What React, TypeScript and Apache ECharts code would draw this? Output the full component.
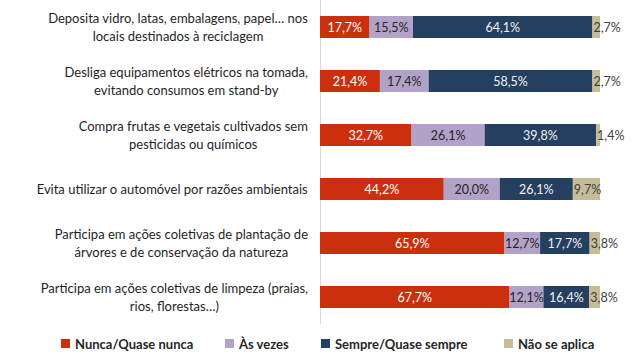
import React, { useEffect, useRef } from "react";
import * as echarts from "echarts";

const categories = [
  "Deposita vidro, latas, embalagens, papel… nos\nlocais destinados à reciclagem",
  "Desliga equipamentos elétricos na tomada,\nevitando consumos em stand-by",
  "Compra frutas e vegetais cultivados sem\npesticidas ou químicos",
  "Evita utilizar o automóvel por razões ambientais",
  "Participa em ações coletivas de plantação de\nárvores e de conservação da natureza",
  "Participa em ações coletivas de limpeza (praias,\nrios, florestas…)",
];
const seriesNames = ["Nunca/Quase nunca", "Às vezes", "Sempre/Quase sempre", "Não se aplica"];
const nunca = [17.7, 21.4, 32.7, 44.2, 65.9, 67.7];
const asVezes = [15.5, 17.4, 26.1, 20.0, 12.7, 12.1];
const sempre = [64.1, 58.5, 39.8, 26.1, 17.7, 16.4];
const naoAplica = [2.7, 2.7, 1.4, 9.7, 3.8, 3.8];

const colors = ["#CB2F0E", "#B3A2C7", "#243F60", "#C4BD97"];
const labelColors = ["#FFFFFF", "#262626", "#F2F2F2", "#404040"];
const FONT = "Lato, 'Open Sans', sans-serif";

export default function App() {
  const ref = useRef<HTMLDivElement>(null);
  useEffect(() => {
    if (!ref.current) return;
    const chart = echarts.init(ref.current, undefined, { renderer: "svg" });
    const data = [nunca, asVezes, sempre, naoAplica];
    const fmt = (p: any) => (p.value as number).toFixed(1).replace(".", ",") + "%";
    const legendLefts = [56, 220, 316, 499];
    chart.setOption({
      animation: false,
      textStyle: { fontFamily: FONT },
      grid: { left: 320, right: 36, top: -1, height: 325, containLabel: false },
      xAxis: {
        type: "value",
        min: 0,
        max: 100,
        show: false,
      },
      yAxis: {
        type: "category",
        inverse: true,
        data: categories,
        axisLine: { show: true, lineStyle: { color: "#D9D9D9", width: 1 } },
        axisTick: { show: false },
        axisLabel: {
          margin: 12,
          formatter: (v: string) =>
            v
              .split("\n")
              .map((l) => `{c|${l}}`)
              .join("\n"),
          rich: {
            c: {
              align: "center",
              fontSize: 13,
              lineHeight: 18,
              color: "#1F1F1F",
              fontFamily: FONT,
            },
          },
        },
      },
      legend: seriesNames.map((n, i) => ({
        data: [n],
        left: legendLefts[i],
        top: 332,
        itemWidth: 9,
        itemHeight: 9,
        itemGap: 4,
        icon: "rect",
        textStyle: { fontSize: 13, fontWeight: "bold", color: "#262626", fontFamily: FONT },
      })),
      series: seriesNames.map((n, i) => ({
        name: n,
        type: "bar",
        stack: "total",
        barWidth: 22,
        data: data[i],
        itemStyle: { color: colors[i] },
        label: {
          show: true,
          position: i === 3 ? "insideLeft" : "inside",
          distance: i === 3 ? 1 : 5,
          formatter: fmt,
          color: labelColors[i],
          fontSize: 12.5,
          fontFamily: FONT,
        },
      })),
    });
    return () => chart.dispose();
  }, []);
  return (
    <div
      ref={ref}
      style={{ position: "absolute", left: 0, top: 0, width: 636, height: 355 }}
    />
  );
}
